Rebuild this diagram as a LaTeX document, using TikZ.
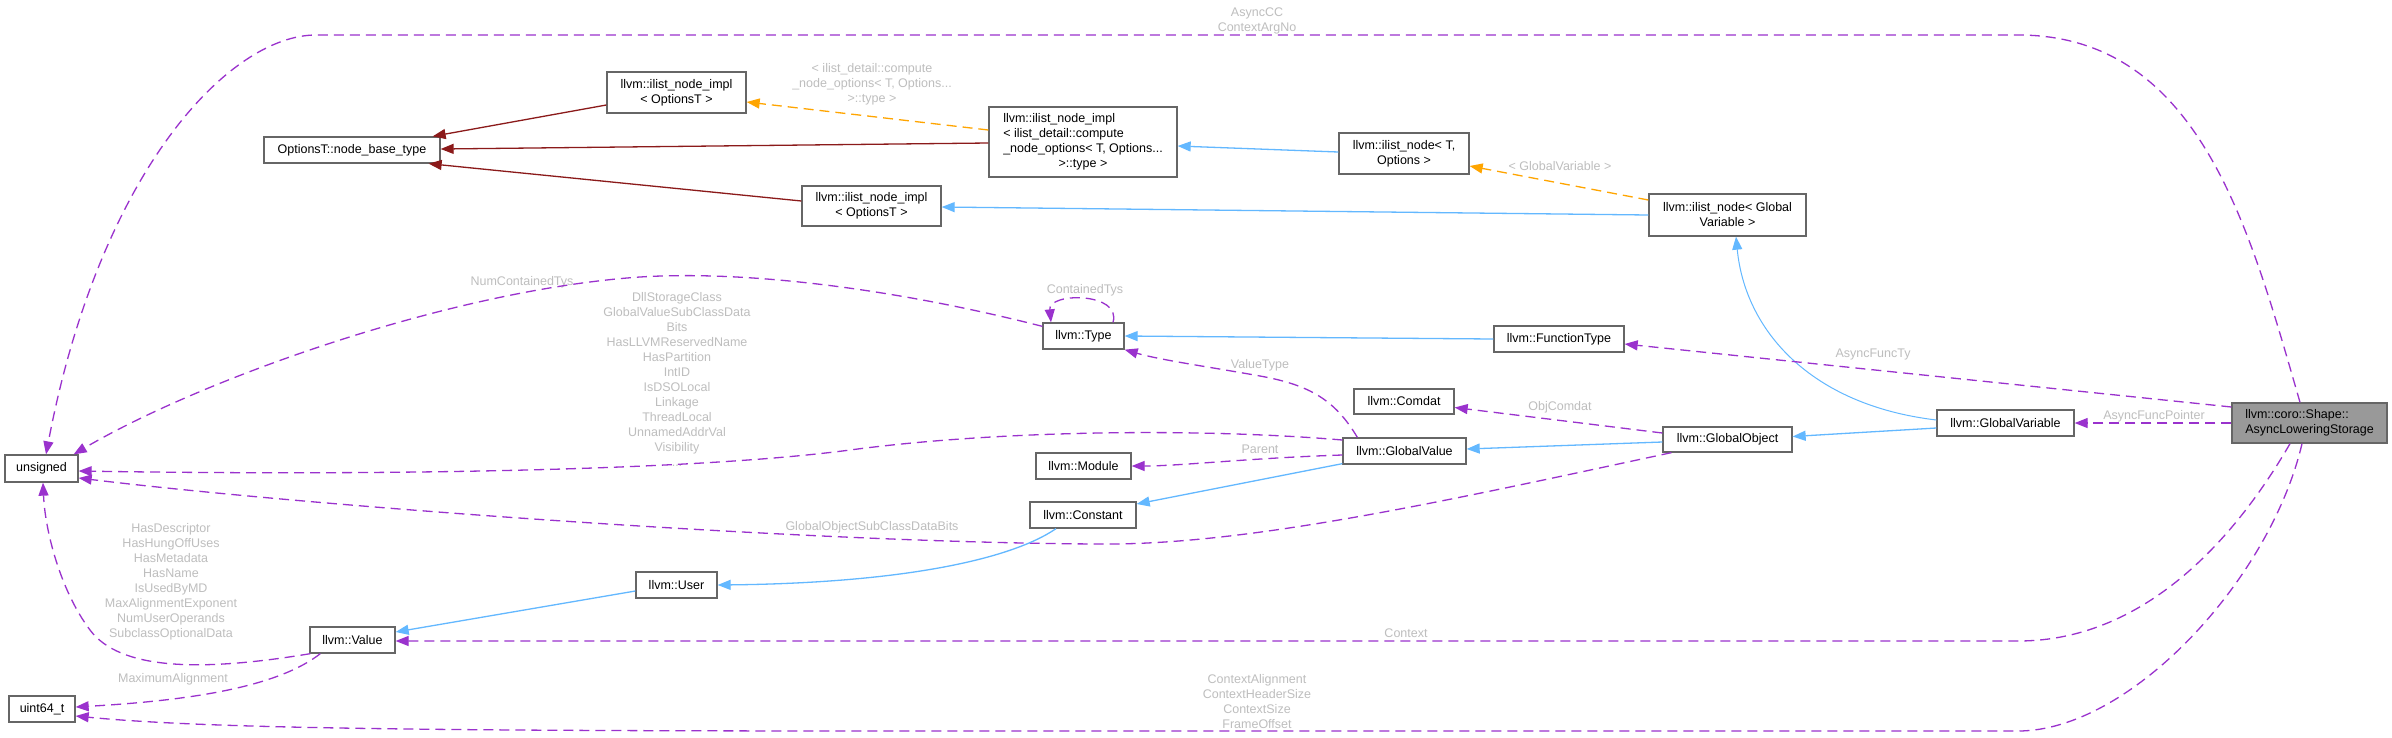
\documentclass[tikz,border=0pt]{standalone}
\usepackage{fontspec}
\setmainfont{Liberation Sans}
\usetikzlibrary{arrows.meta,calc}
\definecolor{edgepurple}{HTML}{9A32CD}
\definecolor{edgeblue}{HTML}{63B8FF}
\definecolor{edgered}{HTML}{8B1A1A}
\definecolor{edgeorange}{HTML}{FFA500}
\definecolor{boxborder}{HTML}{666666}
\definecolor{mainfill}{HTML}{999999}
\definecolor{labelgray}{HTML}{BEBEBE}
\begin{document}
\begin{tikzpicture}[x=1pt,y=-1pt,
  every node/.style={font=\fontsize{12.5}{15}\selectfont},
  cls/.style={draw=boxborder, fill=white, line width=1.3pt, inner sep=0pt, align=center},
  mainbox/.style={cls, fill=mainfill, align=left},
  arrowed/.style={-{Triangle[length=13pt,width=10pt]}},
  uses/.style={arrowed, draw=edgepurple, line width=1.3pt, dash pattern=on 10pt off 6pt},
  inherit/.style={arrowed, draw=edgeblue, line width=1.3pt},
  inheritred/.style={arrowed, draw=edgered, line width=1.3pt},
  templ/.style={arrowed, draw=edgeorange, line width=1.3pt, dash pattern=on 10pt off 6pt},
  lbl/.style={text=labelgray, align=center, inner sep=0pt},
]
\fill[white] (0,0) rectangle (2392,737);
\useasboundingbox (0,0) rectangle (2392,737);

% labels
\node[lbl] (lAsync) at (1257,21) {AsyncCC\\ContextArgNo};
\node[lbl] (lCompute) at (872,84) {< ilist\_detail::compute\\\_node\_options< T, Options...\\>::type >};
\node[lbl] (lGV) at (1560,166) {< GlobalVariable >};
\node[lbl] (lNum) at (522,282) {NumContainedTys};
\node[lbl] (lContained) at (1085,290) {ContainedTys};
\node[lbl] (lGValue) at (677,379.5) {DllStorageClass\\GlobalValueSubClassData\\Bits\\HasLLVMReservedName\\HasPartition\\IntID\\IsDSOLocal\\Linkage\\ThreadLocal\\UnnamedAddrVal\\Visibility\\...};
\node[lbl] (lValueType) at (1260,365) {ValueType};
\node[lbl] (lObjComdat) at (1560,407) {ObjComdat};
\node[lbl] (lParent) at (1260,449) {Parent};
\node[lbl] (lFuncTy) at (1873,354) {AsyncFuncTy};
\node[lbl] (lFuncPtr) at (2154,416) {AsyncFuncPointer};
\node[lbl] (lGOBits) at (872,527) {GlobalObjectSubClassDataBits};
\node[lbl] (lValueBits) at (171,582) {HasDescriptor\\HasHungOffUses\\HasMetadata\\HasName\\IsUsedByMD\\MaxAlignmentExponent\\NumUserOperands\\SubclassOptionalData};
\node[lbl] (lMaxAlign) at (173,679) {MaximumAlignment};
\node[lbl] (lContext) at (1406,633) {Context};
\node[lbl] (lCtxSizes) at (1257,702) {ContextAlignment\\ContextHeaderSize\\ContextSize\\FrameOffset};

% nodes
\node[cls, minimum width=176, minimum height=26] (optbase) at (352,150) {OptionsT::node\_base\_type};
\node[cls, minimum width=139, minimum height=41] (implTop) at (676.5,92.5) {llvm::ilist\_node\_impl\\< OptionsT >};
\node[cls, minimum width=188, minimum height=70] (implMid) at (1083,142) {\begin{tabular}{@{}l@{}}llvm::ilist\_node\_impl\\< ilist\_detail::compute\\\_node\_options< T, Options...\\\multicolumn{1}{@{}c@{}}{>::type >}\end{tabular}};
\node[cls, minimum width=130, minimum height=41] (nodeT) at (1404,153.5) {llvm::ilist\_node< T,\\Options >};
\node[cls, minimum width=139, minimum height=40] (implLow) at (871.5,206) {llvm::ilist\_node\_impl\\< OptionsT >};
\node[cls, minimum width=157, minimum height=42] (nodeGV) at (1727.5,215) {llvm::ilist\_node< Global\\Variable >};
\node[cls, minimum width=81, minimum height=26] (type) at (1083.5,336) {llvm::Type};
\node[cls, minimum width=130, minimum height=26] (ftype) at (1559,339) {llvm::FunctionType};
\node[cls, minimum width=100, minimum height=25] (comdat) at (1404,401.5) {llvm::Comdat};
\node[cls, minimum width=123, minimum height=26] (gvalue) at (1404.5,451) {llvm::GlobalValue};
\node[cls, minimum width=95, minimum height=26] (module) at (1083.5,466) {llvm::Module};
\node[cls, minimum width=129, minimum height=25] (gobject) at (1727.5,439.5) {llvm::GlobalObject};
\node[cls, minimum width=137, minimum height=26] (gvar) at (2005.5,423) {llvm::GlobalVariable};
\node[mainbox, minimum width=155, minimum height=40] (main) at (2309.5,423) {llvm::coro::Shape::\\AsyncLoweringStorage};
\node[cls, minimum width=106, minimum height=26] (constant) at (1083,515) {llvm::Constant};
\node[cls, minimum width=81, minimum height=26] (user) at (676.5,585) {llvm::User};
\node[cls, minimum width=85, minimum height=26] (value) at (352.5,640) {llvm::Value};
\node[cls, minimum width=73, minimum height=27] (unsigned) at (41.5,468.5) {unsigned};
\node[cls, minimum width=66, minimum height=26] (uint) at (42,709) {uint64\_t};

% edges
\draw[inheritred] ($(implTop.west)+(0,12.5)$) -- ($(optbase.north east)+(-8,0)$);
\draw[inheritred] ($(implMid.west)+(0,1)$) -- ($(optbase.east)+(0,-1)$);
\draw[inheritred] ($(implLow.west)+(0,-5)$) -- ($(optbase.south east)+(-12,0)$);
\draw[templ] ($(implMid.west)+(0,-12)$) -- ($(implTop.east)+(0,9.5)$);
\draw[inherit] ($(nodeT.west)+(0,-1.5)$) -- ($(implMid.east)+(0,4)$);
\draw[templ] ($(nodeGV.west)+(0,-15)$) -- ($(nodeT.east)+(0,12.5)$);
\draw[inherit] (nodeGV.west) -- ($(implLow.east)+(0,1)$);
\draw[inherit, line width=1pt] ($(gvar.west)+(0,-3)$) .. controls (1810,405) and (1745,330) .. ($(nodeGV.south)+(8.5,0)$);
\draw[inherit] ($(gvar.west)+(0,5)$) -- ($(gobject.east)+(0,-3)$);
\draw[inherit] ($(gobject.west)+(0,2.5)$) -- ($(gvalue.east)+(0,-2)$);
\draw[uses] ($(gobject.west)+(0,-6.5)$) -- ($(comdat.east)+(0,6)$);
\draw[uses] ($(gobject.south west)+(9,0)$) .. controls (1450,500) and (1250,545) .. (1102,544) .. controls (800,543) and (300,505) .. ($(unsigned.east)+(0,9.5)$);
\draw[uses] ($(gvalue.north west)+(15,0)$) .. controls (1335,400) and (1310,385) .. (1260,376) .. controls (1210,367) and (1160,360) .. (type.south east);
\draw[uses] ($(gvalue.west)+(0,4)$) .. controls (1250,458) and (1180,466) .. (module.east);
\draw[uses] ($(gvalue.west)+(0,-11)$) .. controls (1200,428) and (1000,430) .. (850,450) .. controls (700,470) and (400,476) .. ($(unsigned.east)+(0,2.5)$);
\draw[inherit] ($(gvalue.south west)+(0,-1)$) -- ($(constant.east)+(0,-11)$);
\draw[inherit] ($(constant.south)+(-27,0)$) .. controls (1010,560) and (900,583) .. (user.east);
\draw[inherit] ($(user.west)+(0,6)$) -- ($(value.east)+(0,-8)$);
\draw[uses] ($(value.south west)+(1,0)$) .. controls (200,672) and (120,670) .. (90,630) .. controls (60,590) and (45,530) .. ($(unsigned.south)+(1.5,0)$);
\draw[uses] ($(value.south west)+(11,0)$) .. controls (280,685) and (200,700) .. ($(uint.east)+(0,-2)$);
\draw[uses] ($(type.north)+(29.5,0)$) .. controls (1122,292) and (1048,292) .. ($(type.north)+(-32.5,0)$);
\draw[uses] ($(type.north west)+(0,4)$) .. controls (900,290) and (750,270) .. (640,277) .. controls (450,290) and (200,380) .. ($(unsigned.north east)+(-5,0)$);
\draw[inherit] (ftype.west) -- (type.east);
\draw[uses] ($(main.west)+(0,-16)$) -- ($(ftype.east)+(0,5)$);
\draw[uses] (main.west) -- (gvar.east);
\draw[uses] ($(main.north)+(-9.5,0)$) .. controls (2250,230) and (2200,35) .. (2018,35) -- (316,35) .. controls (230,35) and (100,170) .. ($(unsigned.north)+(4.5,0)$);
\draw[uses] ($(main.south)+(-19.5,0)$) .. controls (2240,530) and (2150,641) .. (2018,641) -- ($(value.east)+(0,1)$);
\draw[uses] ($(main.south)+(-7.5,0)$) .. controls (2270,580) and (2130,731) .. (2018,731) -- (900,731) .. controls (400,731) and (200,728) .. ($(uint.east)+(0,7)$);
\end{tikzpicture}
\end{document}
